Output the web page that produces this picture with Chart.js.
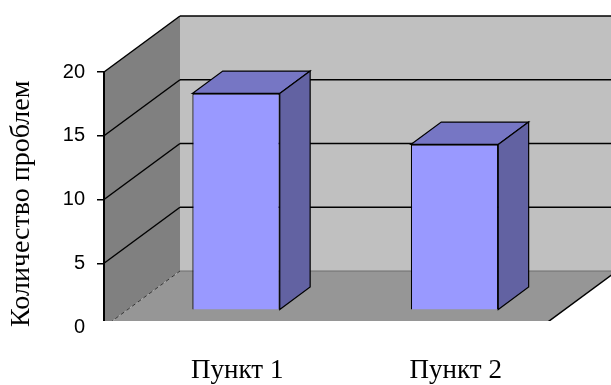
<!DOCTYPE html>
<html>
<head>
<meta charset="utf-8">
<script src="https://cdn.jsdelivr.net/npm/chart.js@4/dist/chart.umd.min.js"></script>
<style>
  html, body { margin: 0; padding: 0; background: #ffffff; }
  #wrap { width: 611px; height: 385px; }
</style>
</head>
<body>
<div id="wrap"><canvas id="chart" width="611" height="385"></canvas></div>
<script>
// Data
const categories = ['Пункт 1', 'Пункт 2'];
const problemCounts = [17, 13];
const yTickValues = [0, 5, 10, 15, 20];
const yAxisTitle = 'Количество проблем';

// 3D look: oblique offset of the back wall, bar placement in depth
const DEPTH = { dx: 76, dy: -56 };
const BAR_FRONT = 0.3;   // fraction of depth where the bar front faces sit
const BAR_DEPTH = 0.4;   // bar thickness as a fraction of depth
const CLIP_BOTTOM = 6;   // walls and floor are cut this far above the front baseline

const COLORS = {
  backWall: '#c0c0c0',
  sideWall: '#808080',
  floor: '#969696',
  barFront: '#9999ff',
  barTop: '#7676c4',
  barSide: '#6262a2',
  line: '#000000'
};

const SERIF = "'Liberation Serif', 'Times New Roman', serif";
const SANS = "'Liberation Sans', Arial, sans-serif";

function poly(ctx, pts, fill, stroke, lw) {
  ctx.beginPath();
  ctx.moveTo(pts[0][0], pts[0][1]);
  for (let i = 1; i < pts.length; i++) ctx.lineTo(pts[i][0], pts[i][1]);
  ctx.closePath();
  if (fill) { ctx.fillStyle = fill; ctx.fill(); }
  if (stroke) { ctx.strokeStyle = stroke; ctx.lineWidth = lw || 1; ctx.stroke(); }
}

function seg(ctx, x1, y1, x2, y2, color, lw, dash) {
  ctx.beginPath();
  ctx.setLineDash(dash || []);
  ctx.moveTo(x1, y1);
  ctx.lineTo(x2, y2);
  ctx.strokeStyle = color;
  ctx.lineWidth = lw;
  ctx.stroke();
  ctx.setLineDash([]);
}

const box3d = {
  id: 'box3d',
  beforeDatasetsDraw(chart) {
    const { ctx, chartArea: a, scales: { y } } = chart;
    const dx = DEPTH.dx, dy = DEPTH.dy;
    const y0 = y.getPixelForValue(y.min);
    const yTop = y.getPixelForValue(y.max);

    ctx.save();
    ctx.beginPath();
    ctx.rect(0, 0, chart.width, a.bottom - CLIP_BOTTOM);
    ctx.clip();

    // back wall, side wall, floor
    poly(ctx, [[a.left + dx, yTop + dy], [a.right + dx, yTop + dy], [a.right + dx, y0 + dy], [a.left + dx, y0 + dy]], COLORS.backWall);
    poly(ctx, [[a.left, yTop], [a.left + dx, yTop + dy], [a.left + dx, y0 + dy], [a.left, y0]], COLORS.sideWall);
    poly(ctx, [[a.left, y0], [a.left + dx, y0 + dy], [a.right + dx, y0 + dy], [a.right, y0]], COLORS.floor);

    // gridlines across side and back walls
    y.ticks.forEach(t => {
      if (t.value <= y.min) return;
      const py = y.getPixelForValue(t.value);
      seg(ctx, a.left, py, a.left + dx, py + dy, COLORS.line, 1.5);
      seg(ctx, a.left + dx, py + dy, a.right + dx, py + dy, COLORS.line, 1.5);
    });

    // floor edges
    seg(ctx, a.left + dx, y0 + dy, a.right + dx, y0 + dy, '#6e6e6e', 1);
    seg(ctx, a.left, y0, a.left + dx, y0 + dy, '#333333', 1, [4, 3]);
    seg(ctx, a.right, y0, a.right + dx, y0 + dy, COLORS.line, 1.5);

    // front value axis line
    seg(ctx, a.left, yTop, a.left, y0, COLORS.line, 2);
    ctx.restore();

    // bars sit partway into the box
    ctx.save();
    ctx.translate(BAR_FRONT * dx, BAR_FRONT * dy);
  },
  afterDatasetsDraw(chart) {
    const { ctx } = chart;
    const ox = BAR_DEPTH * DEPTH.dx, oy = BAR_DEPTH * DEPTH.dy;
    chart.getDatasetMeta(0).data.forEach(bar => {
      const { x, y, base, width } = bar.getProps(['x', 'y', 'base', 'width'], true);
      const l = x - width / 2, r = x + width / 2;
      poly(ctx, [[l, y], [l + ox, y + oy], [r + ox, y + oy], [r, y]], COLORS.barTop, COLORS.line, 1.2);
      poly(ctx, [[r, y], [r + ox, y + oy], [r + ox, base + oy], [r, base]], COLORS.barSide, COLORS.line, 1.2);
    });
    ctx.restore();
  }
};

new Chart(document.getElementById('chart'), {
  type: 'bar',
  data: {
    labels: categories,
    datasets: [{
      data: problemCounts,
      backgroundColor: COLORS.barFront,
      borderColor: COLORS.line,
      borderWidth: 1.2,
      categoryPercentage: 1,
      barPercentage: 0.4
    }]
  },
  plugins: [box3d],
  options: {
    responsive: false,
    animation: false,
    devicePixelRatio: 1,
    layout: { padding: { left: 0, top: 72, right: 70, bottom: 0 } },
    plugins: {
      legend: { display: false },
      tooltip: { enabled: false }
    },
    scales: {
      x: {
        grid: { display: false },
        border: { display: false },
        ticks: {
          color: '#000',
          font: { family: SERIF, size: 27 },
          padding: 20,
          labelOffset: 24,
          maxRotation: 0
        },
        afterFit(scale) { scale.height = 58; }
      },
      y: {
        min: yTickValues[0],
        max: yTickValues[yTickValues.length - 1],
        afterBuildTicks(scale) { scale.ticks = yTickValues.map(v => ({ value: v })); },
        grid: {
          drawOnChartArea: false,
          drawTicks: true,
          tickLength: 7,
          lineWidth: 1.5,
          color: c => (c.tick && c.tick.value === 0 ? 'rgba(0,0,0,0)' : '#000')
        },
        border: { display: false },
        ticks: {
          color: '#000',
          font: { family: SANS, size: 20 },
          padding: 12
        },
        title: {
          display: true,
          text: yAxisTitle,
          color: '#000',
          font: { family: SERIF, size: 28 },
          align: 'start',
          padding: { top: 5, bottom: 0 }
        },
        afterFit(scale) { scale.width = 104; }
      }
    }
  }
});
</script>
</body>
</html>
